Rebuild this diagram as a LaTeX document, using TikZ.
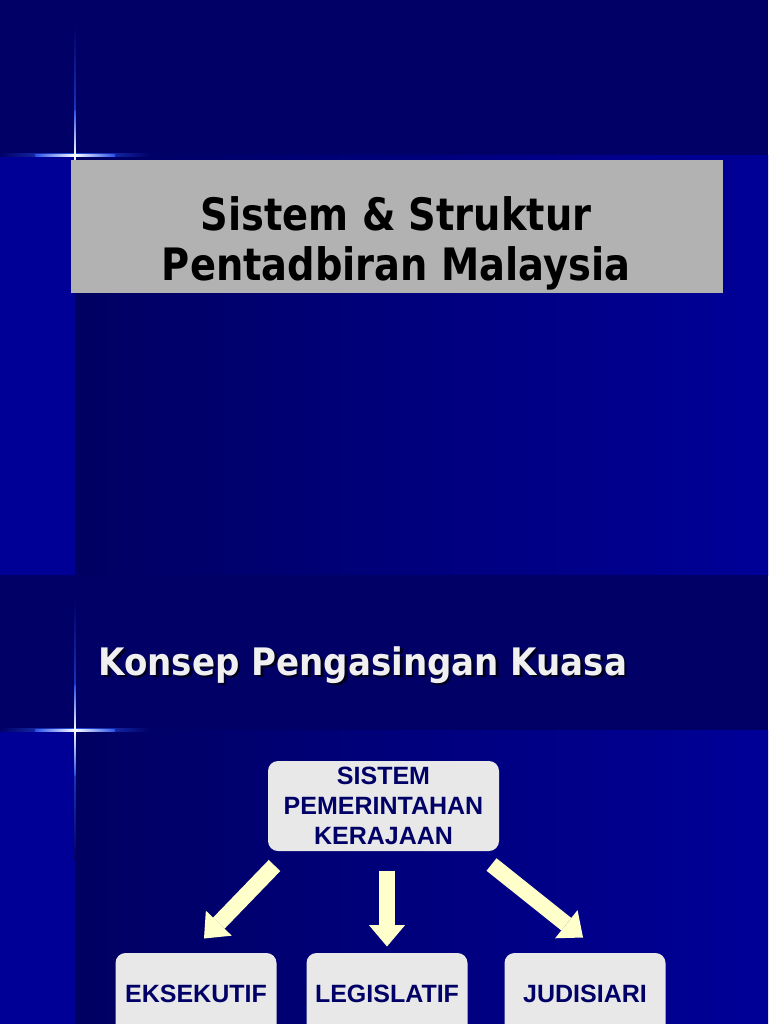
\documentclass[tikz,border=0pt]{standalone}
\usepackage{fontspec}
\setmainfont{Liberation Sans}
\newfontfamily\judulfont{DejaVu Sans Condensed}
\newfontfamily\judulfontsempit[FakeStretch=0.955]{DejaVu Sans Condensed}
\usetikzlibrary{arrows.meta,calc}

\definecolor{navyband}{RGB}{0,0,102}
\definecolor{stripblue}{RGB}{0,0,150}
\definecolor{gradL}{RGB}{0,0,98}
\definecolor{gradR}{RGB}{0,0,152}
\definecolor{sparkblue}{RGB}{40,80,230}
\definecolor{titlegray}{RGB}{178,178,178}
\definecolor{boxgray}{RGB}{232,232,232}
\definecolor{boxtext}{RGB}{0,0,102}
\definecolor{arrowyellow}{RGB}{255,255,204}
\definecolor{shadowcol}{RGB}{0,0,30}

\tikzset{every picture/.style={line width=0.75pt}}

\begin{document}
\begin{tikzpicture}[x=0.75pt,y=0.75pt,yscale=-1,xscale=1,
	kotakjudul/.style={fill=titlegray, minimum width=489pt, minimum height=99.75pt, inner sep=0pt},
	teksjudul/.style={align=center, font=\judulfontsempit\bfseries\fontsize{33.5pt}{37.5pt}\selectfont},
	konsep/.style={anchor=base west, inner sep=0pt, font=\judulfont\bfseries\fontsize{28.4pt}{33pt}\selectfont},
	kotak/.style={fill=boxgray, rounded corners=7.5pt, text=boxtext, align=center, inner sep=0pt, font=\bfseries\fontsize{18.75pt}{22.5pt}\selectfont},
	cabang/.style={kotak, minimum width=120.75pt, minimum height=61.5pt},
	panah/.style={draw=arrowyellow, line width=12pt, -{Triangle[width=27pt,length=16pt,line width=0pt]}}]
	\clip (0,0) rectangle (768,1024);

	%Shape: Background slide 1
	\fill [navyband] (0,0) rectangle (768,155);
	\fill [stripblue] (0,155) rectangle (75,575);
	\shade [left color=gradL, right color=gradR] (75,155) rectangle (768,575);
	%Shape: Background slide 2
	\fill [navyband] (0,575) rectangle (768,730);
	\fill [stripblue] (0,730) rectangle (75,1024);
	\shade [left color=gradL, right color=gradR] (75,730) rectangle (768,1024);

	%Shape: Sparkle lines
	\foreach \sy in {155,730} {
		\shade [left color=navyband, right color=navyband, middle color=sparkblue] (0,\sy-1.2) rectangle (150,\sy+1.2);
		\shade [left color=sparkblue, right color=sparkblue, middle color=white] (35,\sy-1) rectangle (115,\sy+1);
		\shade [top color=navyband, bottom color=navyband, middle color=sparkblue] (74.2,\sy-130) rectangle (75.8,\sy+130);
		\shade [top color=sparkblue, bottom color=sparkblue, middle color=white] (74.4,\sy-45) rectangle (75.6,\sy+45);
	}

	%Shape: Title box
	\node [kotakjudul] (judul) at (397,226.5) {};
	% Text Node
	\node [teksjudul] (judulteks) at (396,243.5) {Sistem \& Struktur\\Pentadbiran Malaysia};

	% Text Node
	\node [konsep, text=shadowcol] (konsepbayang) at (100.5,677.5) {Konsep Pengasingan Kuasa};
	\node [konsep, text={rgb,255:red,240;green,240;blue,240}] (konsep) at (98,675) {Konsep Pengasingan Kuasa};

	%Shape: Boxes
	\node [kotak, minimum width=173.25pt, minimum height=67.5pt] (sys) at (383.5,806) {SISTEM\\PEMERINTAHAN\\KERAJAAN};
	\node [cabang] (eks) at (196,994) {EKSEKUTIF};
	\node [cabang] (leg) at (387,994) {LEGISLATIF};
	\node [cabang] (jud) at (585,994) {JUDISIARI};

	%Straight Lines: arrows
	\draw [panah] ($(sys.south west)+(7,14)$) -- ($(eks.north)+(8,-14)$);
	\draw [panah] ($(sys.south)+(3.5,19)$) -- ($(leg.north)+(0,-6)$);
	\draw [panah] ($(sys.south east)+(-8,13)$) -- ($(jud.north)+(-2,-15)$);

\end{tikzpicture}
\end{document}
